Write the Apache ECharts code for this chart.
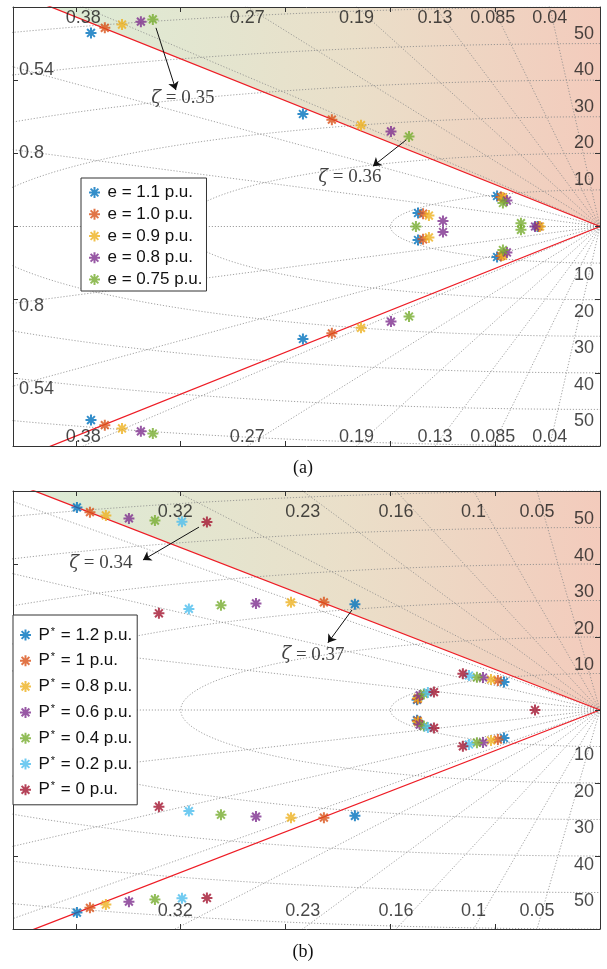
<!DOCTYPE html>
<html><head><meta charset="utf-8">
<script src="https://cdn.jsdelivr.net/npm/echarts@6/dist/echarts.min.js"></script>
<style>html,body{margin:0;padding:0;background:#fff}#c{width:607px;height:969px}</style>
</head><body><div id="c"></div>
<script>
// ================= DATA =================
// (a) pole locations [real, imag] per excitation level
const namesA = ['e = 1.1 p.u.','e = 1.0 p.u.','e = 0.9 p.u.','e = 0.8 p.u.','e = 0.75 p.u.'];
const polesA_e110 = [[-24.28,52.9],[-24.28,-52.9],[-14.17,30.75],[-14.17,-30.75],[-4.91,8.34],[-4.91,-8.34],[-8.68,3.69],[-8.68,-3.69],[-2.98,0]];
const polesA_e100 = [[-23.62,54.3],[-23.62,-54.3],[-12.79,29.2],[-12.79,-29.2],[-4.72,8.06],[-4.72,-8.06],[-8.44,3.5],[-8.44,-3.5],[-2.92,0]];
const polesA_e090 = [[-22.8,55.2],[-22.8,-55.2],[-11.40,27.7],[-11.40,-27.7],[-4.63,7.95],[-4.63,-7.95],[-8.16,3.0],[-8.16,-3.0],[-2.86,0]];
const polesA_e080 = [[-21.9,56.0],[-21.9,-56.0],[-9.97,26.0],[-9.97,-26.0],[-4.44,7.1],[-4.44,-7.1],[-7.49,1.5],[-7.49,-1.5],[-3.10,0]];
const polesA_e075 = [[-21.33,56.6],[-21.33,-56.6],[-9.11,24.6],[-9.11,-24.6],[-4.63,6.42],[-4.63,-6.42],[-8.78,0],[-3.77,0.9],[-3.77,-0.9]];

// (b) pole locations [real, imag] per active power set-point
const namesB = ['P* = 1.2 p.u.','P* = 1 p.u.','P* = 0.8 p.u.','P* = 0.6 p.u.','P* = 0.4 p.u.','P* = 0.2 p.u.','P* = 0 p.u.'];
const polesB_p12 = [[-24.95,55.5],[-24.95,-55.5],[-11.69,29.0],[-11.69,-29.0],[-4.58,7.67],[-4.58,-7.67],[-8.73,2.8],[-8.73,-2.8]];
const polesB_p10 = [[-24.33,54.2],[-24.33,-54.2],[-13.17,29.5],[-13.17,-29.5],[-4.87,8.1],[-4.87,-8.1],[-8.70,3.0],[-8.70,-3.0]];
const polesB_p08 = [[-23.57,53.3],[-23.57,-53.3],[-14.74,29.5],[-14.74,-29.5],[-5.2,8.35],[-5.2,-8.35],[-8.68,3.3],[-8.68,-3.3]];
const polesB_p06 = [[-22.47,52.5],[-22.47,-52.5],[-16.41,29.2],[-16.41,-29.2],[-5.58,8.9],[-5.58,-8.9],[-8.60,4.0],[-8.60,-4.0]];
const polesB_p04 = [[-21.23,51.9],[-21.23,-51.9],[-18.08,28.7],[-18.08,-28.7],[-5.87,8.95],[-5.87,-8.95],[-8.40,4.4],[-8.40,-4.4]];
const polesB_p02 = [[-19.94,51.6],[-19.94,-51.6],[-19.61,27.7],[-19.61,-27.7],[-6.25,9.45],[-6.25,-9.45],[-8.21,4.8],[-8.21,-4.8]];
const polesB_p00 = [[-18.75,51.5],[-18.75,-51.5],[-21.04,26.5],[-21.04,-26.5],[-6.54,9.95],[-6.54,-9.95],[-7.92,4.9],[-7.92,-4.9],[-3.10,0]];

// s-plane grid values
const dampingA = [0.04,0.085,0.13,0.19,0.27,0.38,0.54,0.8];
const dampingB = [0.05,0.1,0.16,0.23,0.32,0.44,0.6,0.84];
const edgeLabelsA = ['0.38','0.27','0.19','0.13','0.085','0.04'];
const sideLabelsA = ['0.54','0.8'];
const edgeLabelsB = ['0.32','0.23','0.16','0.1','0.05'];
const natFreq = [10,20,30,40,50,60];
const natFreqLabels = [10,20,30,40,50];
const zetaLimitA = 0.40, zetaLimitB = 0.41;

// annotations: arrow from -> to, text at
const annA = [{t:'0.35', from:[-21.18,54.3], to:[-20.23,37.3], at:[-19.9,35.1]},
              {t:'0.36', from:[-9.26,23.6], to:[-10.83,16.5], at:[-11.93,13.4]}];
const annB = [{t:'0.34', from:[-19.13,50.1], to:[-21.80,41.1], at:[-23.81,40.3]},
              {t:'0.37', from:[-11.83,27.4], to:[-12.98,18.4], at:[-13.69,15.2]}];

// ================= STYLE / LAYOUT =================
const X_MIN = -28, Y_MAX = 60;
const colorsA = ['#0072BD','#D95319','#EDB120','#7E2F8E','#77AC30'];
const colorsB = ['#0072BD','#D95319','#EDB120','#7E2F8E','#77AC30','#4DBEEE','#A2142F'];
const MARK = 'path://M5 0L5 10M0 5L10 5M1.46 1.46L8.54 8.54M1.46 8.54L8.54 1.46';
const FONT = 'Liberation Sans';
const TXT = '#1a1a1a';

const chart = echarts.init(document.getElementById('c'));

function axesFor(g){
  const common = {type:'value', gridIndex:g, min:X_MIN, max:0, z:10,
    axisLine:{show:true, onZero:false, lineStyle:{color:'#333', width:1}},
    axisTick:{show:true, inside:true, length:5, customValues:[-25,-20,-15,-10,-5], lineStyle:{color:'#333'}},
    axisLabel:{show:false}, splitLine:{show:false}};
  const ycommon = {type:'value', gridIndex:g, min:-Y_MAX, max:Y_MAX, interval:20, z:10,
    axisLine:{show:true, onZero:false, lineStyle:{color:'#333', width:1}},
    axisTick:{show:true, inside:true, length:5, lineStyle:{color:'#333'}},
    axisLabel:{show:false}, splitLine:{show:false}};
  return {x:[Object.assign({position:'bottom'},common), Object.assign({position:'top'},common)],
          y:[Object.assign({position:'left'},ycommon), Object.assign({position:'right'},ycommon)]};
}
const ax0 = axesFor(0), ax1 = axesFor(1);

function lineS(g, data, style, z){
  return {type:'line', xAxisIndex:2*g, yAxisIndex:2*g, data:data, showSymbol:false, symbol:'none',
    silent:true, z:z||2, clip:true, animation:false, lineStyle:style};
}
const dotted = {color:'#8a8a8a', width:0.8, type:[1.2,1.8]};
function gridLines(g, damping){
  const out=[]; const R=300;
  damping.concat([1]).forEach(z=>{
    const s=Math.sqrt(1-z*z);
    out.push(lineS(g, [[0,0],[-R*z, R*s]], dotted));
    if (s>0) out.push(lineS(g, [[0,0],[-R*z,-R*s]], dotted));
  });
  natFreq.forEach(w=>{
    const pts=[];
    for(let a=90;a<=270;a+=1){const r=a*Math.PI/180; pts.push([w*Math.cos(r), w*Math.sin(r)]);}
    out.push(lineS(g, pts, dotted));
  });
  return out;
}
function redLines(g, z){
  const s=Math.sqrt(1-z*z), R=300, st={color:'#ee1c25', width:1.3, type:'solid'};
  return [lineS(g, [[0,0],[-R*z,R*s]], st, 3), lineS(g, [[0,0],[-R*z,-R*s]], st, 3)];
}
function shade(g, z){
  return {type:'custom', xAxisIndex:2*g, yAxisIndex:2*g, z:1, silent:true, animation:false, data:[[0,0]],
    renderItem:(params, api)=>{
      const s=Math.sqrt(1-z*z);
      const xTop=-Y_MAX*z/s;
      return {type:'polygon', shape:{points:[api.coord([0,0]), api.coord([xTop,Y_MAX]), api.coord([0,Y_MAX])]},
        style:{fill:new echarts.graphic.LinearGradient(0,0,1,0,[{offset:0,color:'#dcecd6'},{offset:0.55,color:'#eadfc9'},{offset:1,color:'#f3cbbc'}])}};
    }};
}
function poleSeries(g, name, data, color){
  return {type:'scatter', name:name, xAxisIndex:2*g, yAxisIndex:2*g, data:data, symbol:MARK, symbolSize:11,
    itemStyle:{color:color, borderColor:color, borderWidth:2}, z:5, clip:false, animation:false};
}
function labelSeries(g, items){
  return {type:'scatter', xAxisIndex:2*g, yAxisIndex:2*g, symbolSize:1, silent:true, z:6, clip:false, animation:false,
    itemStyle:{color:'transparent'},
    label:{show:true, position:'inside', formatter:'{b}', color:TXT, fontFamily:FONT, fontSize:18},
    data:items};
}
function edgeItems(labels, yPos, dy){
  return labels.map(l=>{
    const z=parseFloat(l), s=Math.sqrt(1-z*z);
    return {name:l, value:[-Y_MAX*z/s, yPos], label:{offset:[0,dy], align:'center', verticalAlign:'middle'}};
  });
}
function sideItems(labels, sign){
  return labels.map(l=>{
    const z=parseFloat(l), s=Math.sqrt(1-z*z);
    return {name:l, value:[X_MIN, sign*(-X_MIN)*s/z], label:{offset:[6,3], align:'left', verticalAlign:'middle'}};
  });
}
function wnItems(upOff, downOff){
  const out=[];
  natFreqLabels.forEach(w=>{
    out.push({name:String(w), value:[0,w], label:{offset:[-6,upOff], align:'right', verticalAlign:'middle'}});
    out.push({name:String(w), value:[0,-w], label:{offset:[-6,downOff], align:'right', verticalAlign:'middle'}});
  });
  return out;
}
function annSeries(g, ann){
  return {type:'scatter', xAxisIndex:2*g, yAxisIndex:2*g, symbolSize:1, silent:true, z:6, clip:false, animation:false,
    itemStyle:{color:'transparent'},
    label:{show:true, position:'inside', align:'center', verticalAlign:'middle',
      rich:{z:{fontFamily:'DejaVu Serif', fontStyle:'italic', fontSize:18, color:'#111'},
            n:{fontFamily:'Liberation Serif', fontSize:19, color:'#111'}}},
    data:ann.map(a=>({value:a.at, label:{formatter:'{z|ζ}{n| = '+a.t+'}'}}))};
}
function arrowSeries(g, ann){
  return {type:'lines', coordinateSystem:'cartesian2d', xAxisIndex:2*g, yAxisIndex:2*g, z:6, silent:true, animation:false,
    symbol:['none','arrow'], symbolSize:8,
    lineStyle:{color:'#111', width:1, type:'solid', opacity:1},
    data:ann.map(a=>({coords:[a.from, a.to]}))};
}

const series = [];
series.push(shade(0, zetaLimitA), shade(1, zetaLimitB));
series.push(...gridLines(0, dampingA), ...gridLines(1, dampingB));
series.push(...redLines(0, zetaLimitA), ...redLines(1, zetaLimitB));
series.push(annSeries(0, annA), annSeries(1, annB), arrowSeries(0, annA), arrowSeries(1, annB));
const polesA = [polesA_e110, polesA_e100, polesA_e090, polesA_e080, polesA_e075];
const polesB = [polesB_p12, polesB_p10, polesB_p08, polesB_p06, polesB_p04, polesB_p02, polesB_p00];
polesA.forEach((d,i)=>series.push(poleSeries(0, namesA[i], d, colorsA[i])));
polesB.forEach((d,i)=>series.push(poleSeries(1, namesB[i], d, colorsB[i])));
series.push(labelSeries(0, [].concat(edgeItems(edgeLabelsA, Y_MAX, 11), edgeItems(edgeLabelsA, -Y_MAX, -9),
  sideItems(sideLabelsA, 1), sideItems(sideLabelsA, -1), wnItems(-10, 12))));
series.push(labelSeries(1, [].concat(edgeItems(edgeLabelsB, Y_MAX, 21), edgeItems(edgeLabelsB, -Y_MAX, -18),
  wnItems(-8, 9))));

const option = {
  animation:false,
  backgroundColor:'#fff',
  grid:[{left:13, top:7, width:587, height:439, show:false},
        {left:13, top:491, width:587, height:438, show:false}],
  xAxis:[ax0.x[0], ax0.x[1], ax1.x[0], ax1.x[1]],
  yAxis:[ax0.y[0], ax0.y[1], ax1.y[0], ax1.y[1]],
  legend:[
    {data:namesA.map((n,i)=>({name:n, icon:MARK, itemStyle:{color:colorsA[i], borderColor:colorsA[i], borderWidth:2}})),
     orient:'vertical', left:81, top:178, itemWidth:16, itemHeight:11, itemGap:4.75, padding:[6,4,3,7],
     backgroundColor:'#fff', borderColor:'#333', borderWidth:1, selectedMode:false, z:20,
     textStyle:{fontFamily:FONT, fontSize:17, lineHeight:17, color:'#111'}},
    {data:namesB.map((n,i)=>({name:n, icon:MARK, itemStyle:{color:colorsB[i], borderColor:colorsB[i], borderWidth:2}})),
     orient:'vertical', left:13, top:615, itemWidth:16, itemHeight:11, itemGap:7.8, padding:[11,5,6,6],
     backgroundColor:'#fff', borderColor:'#333', borderWidth:1, selectedMode:false, z:20,
     formatter: n => '{p|P}{s|*}{p|' + n.slice(2) + '}',
     textStyle:{fontFamily:FONT, fontSize:17, lineHeight:18, color:'#111',
       rich:{p:{fontFamily:FONT, fontSize:17, lineHeight:18, color:'#111'},
             s:{fontFamily:FONT, fontSize:11, lineHeight:18, verticalAlign:'top', color:'#111', padding:[0,1,0,1]}}}}
  ],
  graphic:[
    {type:'text', x:303, y:468, style:{text:'(a)', font:'18px "Liberation Serif"', fill:'#111', textAlign:'center', textVerticalAlign:'middle'}},
    {type:'text', x:303, y:952, style:{text:'(b)', font:'18px "Liberation Serif"', fill:'#111', textAlign:'center', textVerticalAlign:'middle'}}
  ],
  series:series
};
chart.setOption(option);
</script></body></html>
